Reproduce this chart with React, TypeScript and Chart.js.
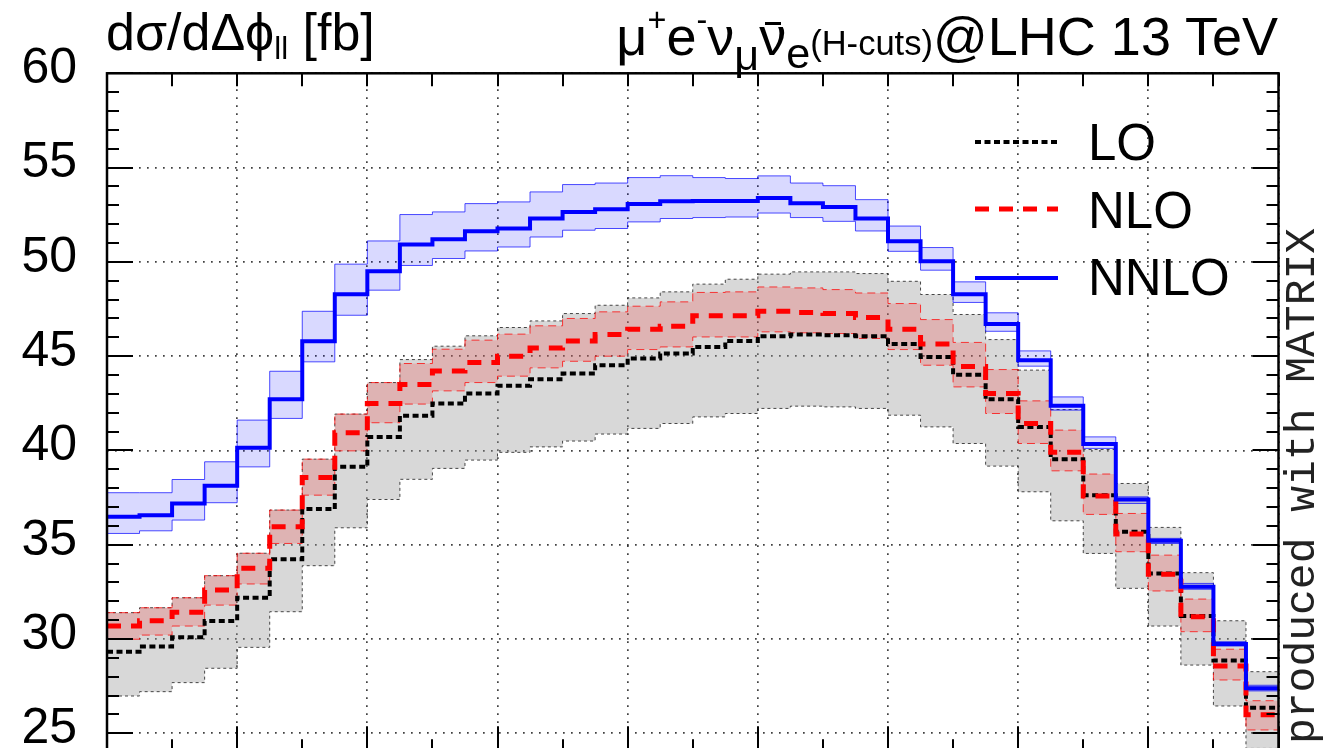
import React, { useEffect, useRef } from 'react';
import { Chart, registerables } from 'chart.js';

Chart.register(...registerables);

// Bin edges of the Δφ_ll histogram (36 bins of 0.05)
const EDGES = [0, 0.05, 0.1, 0.15, 0.2, 0.25, 0.3, 0.35, 0.4, 0.45, 0.5, 0.55, 0.6, 0.65, 0.7, 0.75, 0.8, 0.85, 0.9, 0.95, 1.0, 1.05, 1.1, 1.15, 1.2, 1.25, 1.3, 1.35, 1.4, 1.45, 1.5, 1.55, 1.6, 1.65, 1.7, 1.75, 1.8];

// LO
const LO = [29.33, 29.6, 30.09, 30.96, 32.19, 34.23, 36.89, 39.13, 40.72, 41.84, 42.49, 43.02, 43.43, 43.78, 44.08, 44.52, 44.88, 45.14, 45.49, 45.81, 46.06, 46.15, 46.11, 46.06, 45.64, 44.96, 44.02, 42.72, 41.25, 39.54, 37.63, 35.69, 33.48, 31.22, 28.86, 26.36];
const LO_UP = [31.4, 31.66, 32.19, 33.36, 34.55, 36.84, 39.54, 41.93, 43.6, 44.82, 45.53, 46.08, 46.52, 46.87, 47.26, 47.7, 48.09, 48.41, 48.82, 49.08, 49.35, 49.47, 49.47, 49.38, 48.97, 48.27, 47.21, 45.88, 44.26, 42.17, 40.05, 38.25, 35.92, 33.52, 30.97, 28.27];
const LO_DN = [26.98, 27.21, 27.69, 28.45, 29.56, 31.45, 33.89, 35.9, 37.4, 38.47, 39.05, 39.49, 39.9, 40.19, 40.5, 40.87, 41.17, 41.43, 41.78, 41.96, 42.23, 42.35, 42.31, 42.23, 41.87, 41.25, 40.37, 39.17, 37.81, 36.27, 34.54, 32.69, 30.69, 28.62, 26.45, 24.2];

// NLO
const NLO = [30.69, 30.97, 31.42, 32.6, 33.75, 35.96, 38.57, 40.94, 42.49, 43.5, 44.22, 44.67, 45.0, 45.44, 45.81, 46.15, 46.43, 46.59, 47.14, 47.14, 47.38, 47.32, 47.26, 47.05, 46.43, 45.64, 44.45, 43.02, 41.43, 39.9, 37.58, 35.57, 33.43, 31.18, 28.57, 25.98];
const NLO_UP = [31.4, 31.66, 32.19, 33.36, 34.55, 36.84, 39.54, 41.93, 43.6, 44.61, 45.37, 45.85, 46.17, 46.61, 47.0, 47.35, 47.65, 47.88, 48.38, 48.41, 48.67, 48.62, 48.53, 48.35, 47.79, 46.94, 45.73, 44.29, 42.63, 41.08, 38.75, 36.66, 34.45, 32.12, 29.46, 26.73];
const NLO_DN = [29.99, 30.21, 30.69, 31.8, 32.92, 35.07, 37.63, 39.98, 41.47, 42.46, 43.16, 43.6, 43.94, 44.38, 44.73, 45.0, 45.35, 45.49, 46.02, 46.02, 46.29, 46.24, 46.2, 45.94, 45.35, 44.52, 43.37, 41.96, 40.37, 38.92, 36.61, 34.63, 32.55, 30.39, 27.83, 25.18];

// NNLO
const NNLO = [36.48, 36.57, 37.19, 38.13, 40.14, 42.72, 45.79, 48.28, 49.5, 50.92, 51.2, 51.62, 51.77, 52.3, 52.65, 52.79, 53.07, 53.21, 53.23, 53.23, 53.39, 53.11, 52.91, 52.3, 51.09, 50.03, 48.29, 46.7, 44.79, 42.37, 40.34, 37.4, 35.21, 32.77, 29.74, 27.39];
const NNLO_UP = [37.76, 37.76, 38.46, 39.4, 41.61, 44.2, 47.38, 49.88, 51.11, 52.51, 52.65, 53.09, 53.18, 53.71, 54.1, 54.18, 54.47, 54.57, 54.47, 54.42, 54.56, 54.18, 54.04, 53.3, 51.9, 50.76, 48.94, 47.3, 45.28, 42.84, 40.72, 37.54, 35.34, 32.95, 29.86, 27.55];
const NNLO_DN = [35.6, 35.74, 36.31, 37.23, 39.13, 41.7, 44.7, 47.17, 48.5, 49.81, 50.18, 50.58, 50.79, 51.32, 51.68, 51.77, 52.12, 52.3, 52.35, 52.38, 52.59, 52.35, 52.15, 51.64, 50.56, 49.56, 47.85, 46.32, 44.47, 42.14, 40.11, 37.19, 35.07, 32.64, 29.63, 27.25];

// Axis ticks
const Y_TICKS = [25, 30, 35, 40, 45, 50, 55, 60];
const Y_MINOR = [25, 26, 27, 28, 29, 30, 31, 32, 33, 34, 35, 36, 37, 38, 39, 40, 41, 42, 43, 44, 45, 46, 47, 48, 49, 50, 51, 52, 53, 54, 55, 56, 57, 58, 59, 60];
const X_TICKS = [0, 0.2, 0.4, 0.6, 0.8, 1.0, 1.2, 1.4, 1.6, 1.8];
const X_MINOR = [0.1, 0.3, 0.5, 0.7, 0.9, 1.1, 1.3, 1.5, 1.7];

const LEGEND = [
  { label: 'LO', color: '#000000', dash: [6, 3.5], width: 4 },
  { label: 'NLO', color: '#ff0000', dash: [14, 10], width: 5 },
  { label: 'NNLO', color: '#0000ff', dash: [] as number[], width: 4 },
];

const FONT = '"Liberation Sans", Arial, Helvetica, sans-serif';

function steps(vals: number[]) {
  const pts = vals.map((v, i) => ({ x: EDGES[i], y: v }));
  pts.push({ x: EDGES[EDGES.length - 1], y: vals[vals.length - 1] });
  return pts;
}

const framePlugin = {
  id: 'frameTicks',
  afterDatasetsDraw(chart: any) {
    const { ctx, chartArea: ca, scales } = chart;
    const xs = scales.x;
    const ys = scales.y;
    ctx.save();
    ctx.setLineDash([]);
    ctx.strokeStyle = '#000';
    ctx.lineWidth = 2;
    ctx.beginPath();
    Y_MINOR.forEach((v) => {
      const py = Math.round(ys.getPixelForValue(v));
      const len = v % 5 === 0 ? 26 : 12;
      ctx.moveTo(ca.left, py);
      ctx.lineTo(ca.left + len, py);
      ctx.moveTo(ca.right, py);
      ctx.lineTo(ca.right - len, py);
    });
    X_TICKS.forEach((v) => {
      const px = Math.round(xs.getPixelForValue(v));
      ctx.moveTo(px, ca.top);
      ctx.lineTo(px, ca.top + 13);
      ctx.moveTo(px, ca.bottom);
      ctx.lineTo(px, ca.bottom - 26);
    });
    X_MINOR.forEach((v) => {
      const px = Math.round(xs.getPixelForValue(v));
      ctx.moveTo(px, ca.top);
      ctx.lineTo(px, ca.top + 13);
      ctx.moveTo(px, ca.bottom);
      ctx.lineTo(px, ca.bottom - 13);
    });
    ctx.stroke();
    ctx.lineWidth = 2.5;
    ctx.strokeRect(ca.left, ca.top, ca.right - ca.left, ca.bottom - ca.top);

    // legend line samples
    const ly = [142, 209, 278];
    LEGEND.forEach((e, i) => {
      ctx.beginPath();
      ctx.strokeStyle = e.color;
      ctx.lineWidth = e.width;
      ctx.setLineDash(e.dash);
      ctx.moveTo(975, ly[i]);
      ctx.lineTo(1058, ly[i]);
      ctx.stroke();
    });
    ctx.restore();
  },
};

export default function App() {
  const ref = useRef<HTMLCanvasElement>(null);

  useEffect(() => {
    const canvas = ref.current;
    if (!canvas) return;
    const bandEdge = (data: number[], color: string, dash: number[], fill: any, order: number) => ({
      data: steps(data),
      stepped: true,
      borderColor: color,
      borderWidth: 1,
      borderDash: dash,
      pointRadius: 0,
      fill,
      order,
    });
    const chart = new Chart(canvas, {
      type: 'line',
      data: {
        datasets: [
          { ...bandEdge(LO_UP, 'rgba(40,40,40,0.85)', [3, 3], { target: '+1' }, 60), backgroundColor: 'rgba(150,150,150,0.37)' },
          { ...bandEdge(LO_DN, 'rgba(40,40,40,0.85)', [3, 3], false, 59) },
          { ...bandEdge(NLO_UP, 'rgba(255,0,0,0.75)', [8, 5], { target: '+1' }, 50), backgroundColor: 'rgba(255,0,0,0.17)' },
          { ...bandEdge(NLO_DN, 'rgba(255,0,0,0.75)', [8, 5], false, 49) },
          { ...bandEdge(NNLO_UP, 'rgba(0,0,255,0.7)', [], { target: '+1' }, 40), backgroundColor: 'rgba(0,0,255,0.15)' },
          { ...bandEdge(NNLO_DN, 'rgba(0,0,255,0.7)', [], false, 39) },
          { data: steps(LO), stepped: true, borderColor: '#000', borderWidth: 4, borderDash: [6, 3.5], pointRadius: 0, fill: false, order: 3 },
          { data: steps(NLO), stepped: true, borderColor: '#ff0000', borderWidth: 5, borderDash: [14, 10], pointRadius: 0, fill: false, order: 2 },
          { data: steps(NNLO), stepped: true, borderColor: '#0000ff', borderWidth: 4, pointRadius: 0, fill: false, order: 1 },
        ] as any,
      },
      options: {
        responsive: false,
        animation: false,
        devicePixelRatio: 1,
        layout: { padding: { top: 73.3, right: 45.5, bottom: 0, left: 0 } },
        plugins: { legend: { display: false }, tooltip: { enabled: false } },
        scales: {
          x: {
            type: 'linear',
            min: 0,
            max: 1.8,
            afterBuildTicks: (s: any) => { s.ticks = X_TICKS.map((v) => ({ value: v })); },
            afterFit: (s: any) => {
              s.height = 37.8;
              s.paddingLeft = 0; s.paddingRight = 0; s.paddingTop = 0; s.paddingBottom = 0;
            },
            ticks: { display: false },
            grid: { drawTicks: false, color: 'rgba(0,0,0,0.75)', lineWidth: 1.7 },
            border: { display: false, dash: [1.7, 6.3] },
          },
          y: {
            type: 'linear',
            min: 24,
            max: 60,
            afterBuildTicks: (s: any) => { s.ticks = Y_TICKS.map((v) => ({ value: v })); },
            afterFit: (s: any) => {
              s.width = 107;
              s.paddingLeft = 0; s.paddingRight = 0; s.paddingTop = 0; s.paddingBottom = 0;
            },
            ticks: {
              color: '#000',
              padding: 30,
              labelOffset: -4,
              font: { family: FONT, size: 50 },
            },
            grid: { drawTicks: false, color: 'rgba(0,0,0,0.75)', lineWidth: 1.7 },
            border: { display: false, dash: [1.7, 6.3] },
          },
        },
      } as any,
      plugins: [framePlugin],
    });
    return () => chart.destroy();
  }, []);

  const txt: React.CSSProperties = {
    position: 'absolute',
    fontFamily: FONT,
    fontSize: 52,
    lineHeight: '52px',
    whiteSpace: 'nowrap',
    color: '#000',
  };

  return (
    <div style={{ position: 'absolute', left: 0, top: 0, width: 1324, height: 748, overflow: 'hidden', background: '#fff' }}>
      <canvas ref={ref} width={1324} height={790} style={{ position: 'absolute', left: 0, top: 0, width: 1324, height: 790 }} />
      <div style={{ ...txt, left: 106, top: 6 }}>
        dσ/dΔϕ<span style={{ fontSize: '0.6em', position: 'relative', top: '0.3em' }}>ll</span> [fb]
      </div>
      <div style={{ ...txt, fontSize: 54, lineHeight: '54px', right: 46, top: 9 }}>
        μ<span style={{ fontSize: '0.6em', position: 'relative', top: '-0.75em' }}>+</span>
        e<span style={{ fontSize: '0.6em', position: 'relative', top: '-0.75em' }}>-</span>
        ν<span style={{ fontSize: '0.8em', position: 'relative', top: '0.35em' }}>μ</span>
        <span style={{ position: 'relative', display: 'inline-block' }}>
          ν
          <span style={{ position: 'absolute', left: '0.1em', right: '0.1em', top: '0.24em', height: '0.055em', background: '#000' }} />
        </span>
        <span style={{ fontSize: '0.8em', position: 'relative', top: '0.3em' }}>e</span>
        <span style={{ fontSize: '0.64em', position: 'relative', top: '0em' }}>(H-cuts)</span>@LHC 13 TeV
      </div>
      {LEGEND.map((e, i) => (
        <div key={e.label} style={{ ...txt, fontSize: 51, lineHeight: '51px', left: 1088, top: [117, 185, 252][i] }}>{e.label}</div>
      ))}
      <div
        style={{
          position: 'absolute',
          left: 1281,
          top: 744,
          transform: 'rotate(-90deg)',
          transformOrigin: '0 0',
          fontFamily: '"Liberation Mono", "DejaVu Sans Mono", monospace',
          fontSize: 43,
          lineHeight: '44px',
          whiteSpace: 'nowrap',
          color: '#222',
        }}
      >
        produced with MATRIX
      </div>
    </div>
  );
}
